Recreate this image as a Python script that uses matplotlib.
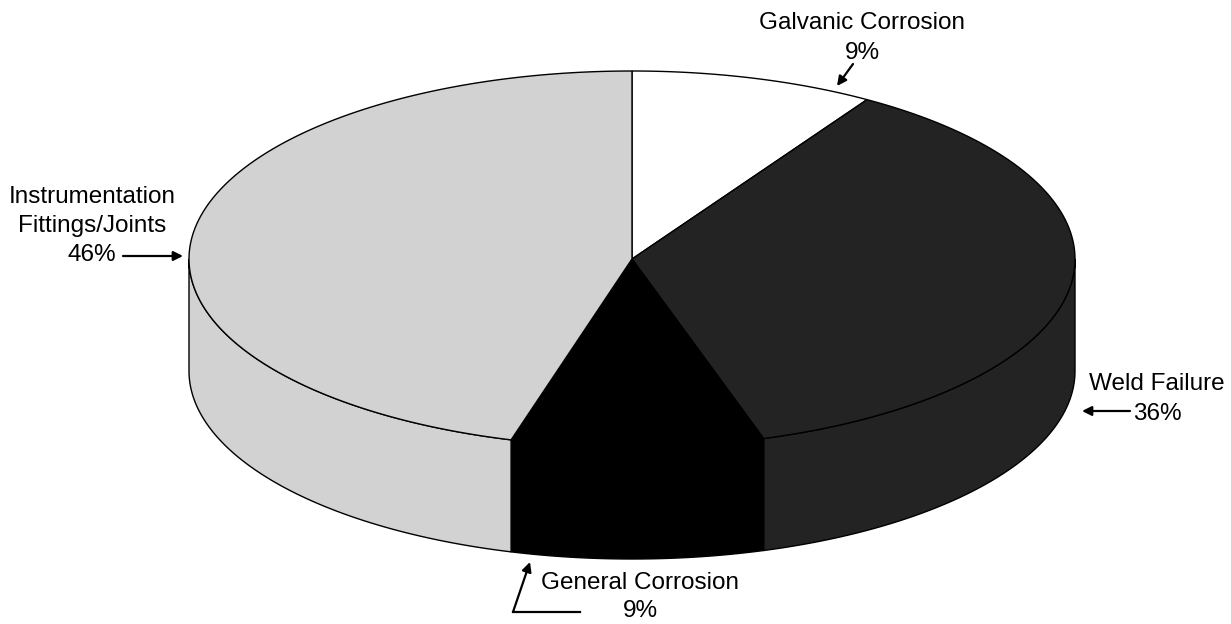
import numpy as np
import matplotlib.pyplot as plt

# Slice data (clockwise from 12 o'clock)
labels = ['Galvanic Corrosion', 'Weld Failure', 'General Corrosion',
          'Instrumentation\nFittings/Joints']
pct_labels = ['9%', '36%', '9%', '46%']
shares = [8.9, 36.3, 9.2, 45.6]  # slice sizes
colors = ['#ffffff', '#232323', '#000000', '#d2d2d2']

# Geometry of the tilted pie, in pixels
cx, cy = 632, 259
a, b = 443, 188
depth = 112


def ellipse(t_deg, dy=0.0):
    t = np.radians(t_deg)
    return cx + a * np.cos(t), cy - b * np.sin(t) + dy


fig = plt.figure(figsize=(12.31, 6.24), dpi=100)
ax = fig.add_axes([0, 0, 1, 1])
ax.set_xlim(0, 1231)
ax.set_ylim(624, 0)
ax.axis('off')

# slice angles (degrees, going clockwise)
starts = []
ends = []
ang = 90.0
for v in shares:
    starts.append(ang)
    ang -= v / sum(shares) * 360.0
    ends.append(ang)

# side walls (only the front half is visible)
for s, e, c in zip(starts, ends, colors):
    for lo, hi in [(-180, 0), (-540, -360)]:
        t_hi = min(s, hi)
        t_lo = max(e, lo)
        if t_hi <= t_lo:
            continue
        ts = np.linspace(t_hi, t_lo, 200)
        xt, yt = ellipse(ts)
        xb, yb = ellipse(ts[::-1], depth)
        ax.fill(np.concatenate([xt, xb]), np.concatenate([yt, yb]),
                facecolor=c, edgecolor='black', lw=1.0, zorder=2)

# top faces
for s, e, c in zip(starts, ends, colors):
    ts = np.linspace(s, e, 300)
    xt, yt = ellipse(ts)
    ax.fill(np.concatenate([[cx], xt]), np.concatenate([[cy], yt]),
            facecolor=c, edgecolor='black', lw=1.0, zorder=3)

font = ['Liberation Sans', 'DejaVu Sans']
fs = 17.5
ls = 1.42
arrow = dict(arrowstyle='-|>', color='black', lw=1.6, mutation_scale=14,
             shrinkA=0, shrinkB=0)

# Galvanic Corrosion
ax.text(862, 38, f'{labels[0]}\n{pct_labels[0]}', ha='center', va='center',
        fontsize=fs, family=font, linespacing=ls)
ax.annotate('', xy=(837, 86), xytext=(853, 64), arrowprops=arrow)

# Weld Failure
ax.text(1157, 399, f'{labels[1]}\n{pct_labels[1]}', ha='center', va='center',
        fontsize=fs, family=font, linespacing=ls)
ax.annotate('', xy=(1082, 411), xytext=(1130, 411), arrowprops=arrow)

# General Corrosion
ax.text(640, 597, f'{labels[2]}\n{pct_labels[2]}', ha='center', va='center',
        fontsize=fs, family=font, linespacing=1.3)
ax.plot([580, 513], [612, 612], color='black', lw=1.6)
ax.annotate('', xy=(530, 562), xytext=(513, 612), arrowprops=arrow)

# Instrumentation Fittings/Joints
ax.text(92, 226, f'{labels[3]}\n{pct_labels[3]}', ha='center', va='center',
        fontsize=fs, family=font, linespacing=ls)
ax.annotate('', xy=(183, 256), xytext=(123, 256), arrowprops=arrow)

fig.savefig('out.png', dpi=100)
